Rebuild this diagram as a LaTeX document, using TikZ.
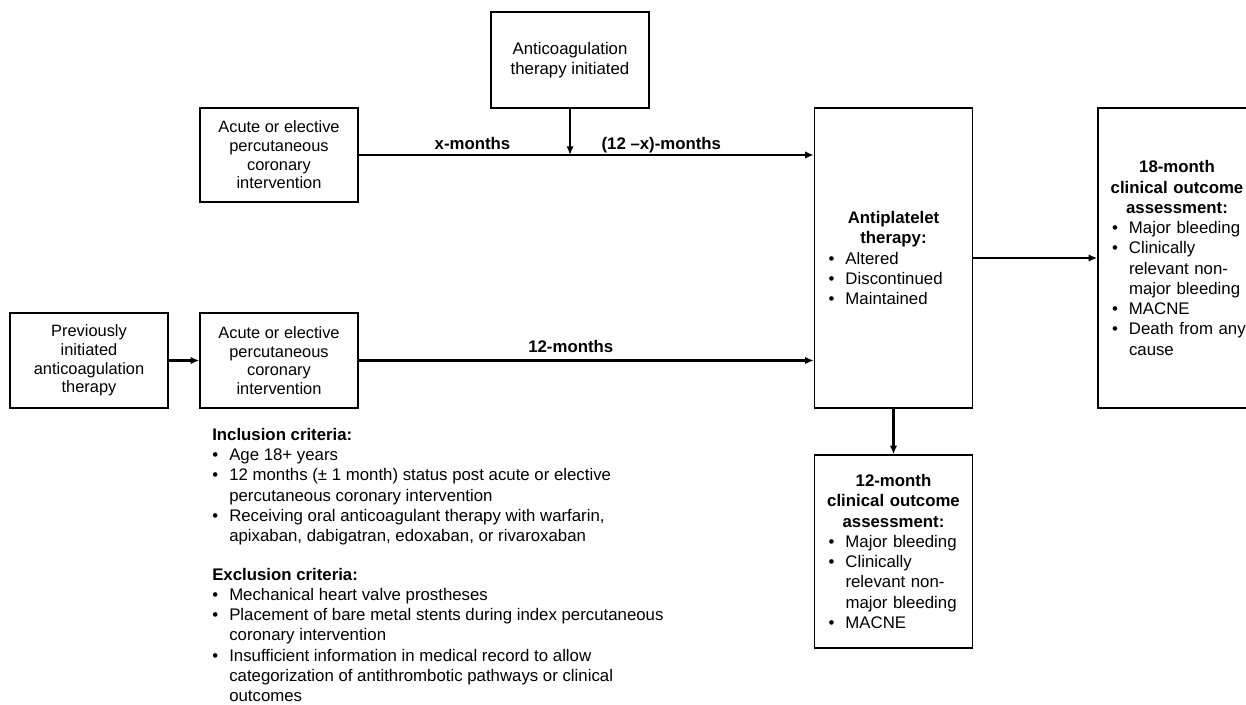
\documentclass[tikz,border=0pt]{standalone}
\usepackage{fontspec}
\setmainfont{Liberation Sans}
\usetikzlibrary{arrows.meta}

\newcommand{\blt}[1]{\makebox[12.75pt][l]{\textbullet}\mbox{#1}}
\newcommand{\ind}{\hspace*{12.75pt}}
\newcommand{\ttl}[1]{\makebox[\hsize][c]{\bfseries #1}}

\tikzset{
  box/.style={draw, line width=1pt, align=center, minimum width=118.5pt, inner sep=2pt, font=\fontsize{12.3}{14}\selectfont},
  listbox/.style={draw, line width=1pt, minimum width=118.5pt, text width=97.5pt, inner xsep=10.5pt, align=left, font=\fontsize{12.6}{15.2}\selectfont},
  conn/.style={line width=1.6pt, -{Latex[length=6.5pt,width=5.5pt]}},
  lbl/.style={font=\bfseries\fontsize{12.6}{15.2}\selectfont, anchor=base, inner sep=0pt},
}

\begin{document}
\begin{tikzpicture}[x=0.75pt, y=-0.75pt]
\useasboundingbox (0,0) rectangle (1246,705);
\clip (0,0) rectangle (1246,705);

% boxes
\node[box, minimum height=72pt, font=\fontsize{12.6}{14.5}\selectfont] (anticoag) at (570,60) {Anticoagulation\\therapy initiated};
\node[box, minimum height=70.5pt] (pciA) at (279,155) {Acute or elective\\percutaneous\\coronary\\intervention};
\node[box, minimum height=71.25pt] (prevac) at (89,360.5) {Previously\\initiated\\anticoagulation\\therapy};
\node[box, minimum height=71.25pt] (pciB) at (279,360.5) {Acute or elective\\percutaneous\\coronary\\intervention};

\node[listbox, minimum height=225pt] (apt) at (893.5,258) {\ttl{Antiplatelet}\\
  \ttl{therapy:}\\
  \blt{Altered}\\
  \blt{Discontinued}\\
  \blt{Maintained}};
\node[listbox, minimum height=225pt] (out18) at (1177,258) {\ttl{18-month}\\
  \ttl{clinical outcome}\\
  \ttl{assessment:}\\
  \blt{Major bleeding}\\
  \blt{Clinically}\\
  \ind relevant non-\\
  \ind major bleeding\\
  \blt{MACNE}\\
  \blt{Death from any}\\
  \ind cause};
\node[listbox, minimum height=144.75pt] (out12) at (893.5,551.5) {\ttl{12-month}\\
  \ttl{clinical outcome}\\
  \ttl{assessment:}\\
  \blt{Major bleeding}\\
  \blt{Clinically}\\
  \ind relevant non-\\
  \ind major bleeding\\
  \blt{MACNE}};

% criteria text
\node[anchor=north west, inner sep=0pt, align=left, font=\fontsize{12.6}{15.2}\selectfont] (criteria) at (212,428) {%
  \textbf{Inclusion criteria:}\\
  \blt{Age 18+ years}\\
  \blt{12 months (± 1 month) status post acute or elective}\\
  \ind percutaneous coronary intervention\\
  \blt{Receiving oral anticoagulant therapy with warfarin,}\\
  \ind apixaban, dabigatran, edoxaban, or rivaroxaban\\[13.5pt]
  \textbf{Exclusion criteria:}\\
  \blt{Mechanical heart valve prostheses}\\
  \blt{Placement of bare metal stents during index percutaneous}\\
  \ind coronary intervention\\
  \blt{Insufficient information in medical record to allow}\\
  \ind categorization of antithrombotic pathways or clinical\\
  \ind outcomes};

% connectors
\draw[conn] (pciA.east) -- (pciA.east -| apt.west)
  node[lbl, pos=0.25, yshift=4pt] {x-months}
  node[lbl, pos=0.665, yshift=4pt] {(12 –x)-months};
\draw[conn] (anticoag.south) -- (anticoag.south |- pciA.east);
\draw[conn] (prevac) -- (pciB);
\draw[conn] (pciB.east) -- (pciB.east -| apt.west)
  node[lbl, pos=0.466, yshift=6pt] {12-months};
\draw[conn] (apt) -- (out18);
\draw[conn] (apt) -- (out12);
\end{tikzpicture}
\end{document}
